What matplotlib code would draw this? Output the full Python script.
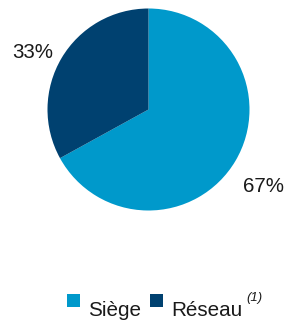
import numpy as np
import matplotlib
matplotlib.use("Agg")
import matplotlib.pyplot as plt
from matplotlib.patches import Rectangle

categories = ["Siège", "Réseau"]
values = [67, 33]
labels = ["67%", "33%"]
colors = ["#0099CB", "#004170"]
legend_note = "(1)"

plt.rcParams["font.family"] = ["Liberation Sans", "DejaVu Sans"]

W, H = 290, 321
fig = plt.figure(figsize=(W / 100, H / 100), dpi=100)
cx, cy, r = 148.5, 109.5, 101
ax = fig.add_axes([(cx - r) / W, (H - cy - r) / H, 2 * r / W, 2 * r / H])
wedges, _ = ax.pie(values, colors=colors, startangle=90, counterclock=False,
                   wedgeprops=dict(linewidth=0))
ax.set_xlim(-1, 1)
ax.set_ylim(-1, 1)
ax.set_aspect("equal")
ax.axis("off")

# value labels (positions in figure pixels)
label_pos = [(264, 186), (32.5, 52.5)]
for lab, (px, py) in zip(labels, label_pos):
    fig.text(px / W, (H - py) / H, lab, ha="center", va="center",
             fontsize=14.8, color="#1a1a1a")

# legend
sq = 12.7
sq_x = [67.3, 150.0]
txt_x = [87.7, 171.7]
for c, name, sx, tx in zip(colors, categories, sq_x, txt_x):
    fig.patches.append(Rectangle((sx / W, (H - 294 - sq) / H), sq / W, sq / H,
                                 transform=fig.transFigure, facecolor=c,
                                 edgecolor="none"))
    fig.text(tx / W, (H - 316) / H, name, ha="left", va="baseline",
             fontsize=14.9, color="#1a1a1a")
fig.text(246.5 / W, (H - 300.5) / H, legend_note, ha="left", va="baseline",
         fontsize=9.5, fontstyle="italic", color="#1a1a1a")

fig.savefig("out.png", dpi=100)
